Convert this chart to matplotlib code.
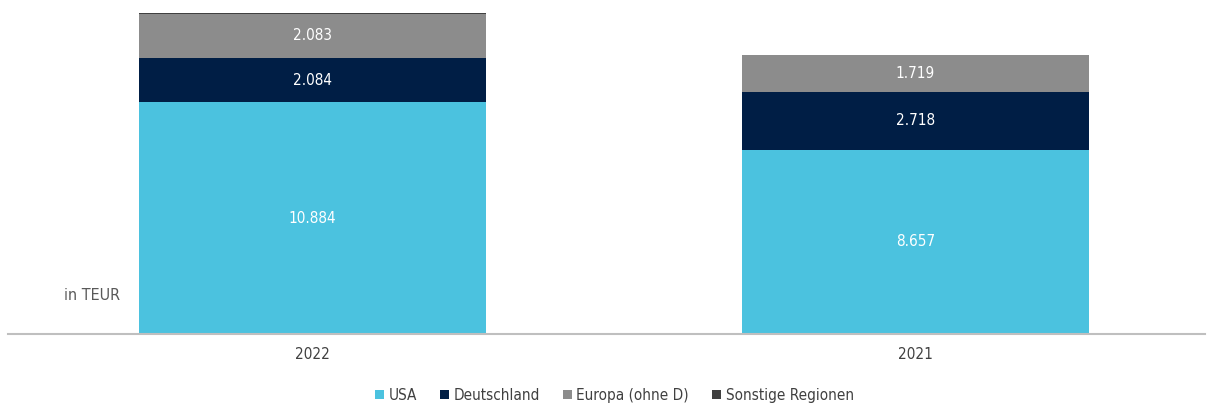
import matplotlib.pyplot as plt

plt.rcParams['font.family'] = ['Liberation Sans Narrow', 'DejaVu Sans']
plt.rcParams['font.stretch'] = 'condensed'

years = ["2022", "2021"]
usa = [10884, 8657]
deutschland = [2084, 2718]
europa = [2083, 1719]
sonstige = [45, 20]

series = [
    ("USA", usa, "#4bc2df"),
    ("Deutschland", deutschland, "#001e45"),
    ("Europa (ohne D)", europa, "#8c8c8c"),
    ("Sonstige Regionen", sonstige, "#404040"),
]

fig = plt.figure(figsize=(12.09, 4.05), dpi=100)
ax = fig.add_axes([0.0066, 0.175, 0.99, 0.813])

x = list(range(len(years)))
bottom = [0, 0]
for name, vals, color in series:
    ax.bar(x, vals, bottom=bottom, width=0.575, color=color, label=name)
    if name != "Sonstige Regionen":
        for i, v in enumerate(vals):
            lab = f"{v:,}".replace(",", ".")
            ax.text(x[i], bottom[i] + v / 2, lab, ha="center", va="center",
                    color="white", fontsize=11)
    bottom = [b + v for b, v in zip(bottom, vals)]

ax.set_xlim(-0.505, 1.48)
ax.set_ylim(0, 15460)
ax.set_yticks([])
ax.set_xticks(x)
ax.set_xticklabels(years, fontsize=11, color="#404040")
ax.tick_params(axis="x", length=0, pad=9)
for s in ["top", "right", "left"]:
    ax.spines[s].set_visible(False)
ax.spines["bottom"].set_color("#bfbfbf")
ax.spines["bottom"].set_linewidth(1.5)

fig.text(0.099, 0.27, "in TEUR", ha="right", va="center", fontsize=11.5, color="#595959")

handles, labels = ax.get_legend_handles_labels()
fig.legend(handles, labels, loc="center", bbox_to_anchor=(0.508, 0.024), ncol=4,
           frameon=False, fontsize=11, handlelength=0.6, handleheight=0.6,
           handletextpad=0.3, columnspacing=1.5, labelcolor="#404040",
           borderpad=0)

fig.savefig("out.png", dpi=100)
